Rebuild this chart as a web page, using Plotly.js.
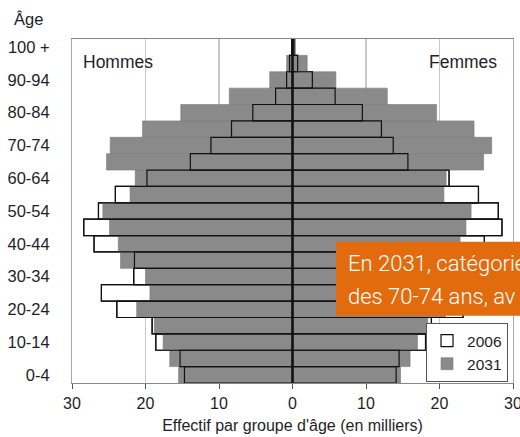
<!DOCTYPE html>
<html><head><meta charset="utf-8">
<script src="https://cdn.plot.ly/plotly-3.0.1.min.js"></script>
<style>html,body{margin:0;padding:0;background:#fff;}#chart{width:520px;height:437px;}</style>
</head><body><div id="chart"></div>
<script>
const ages = ['0-4','5-9','10-14','15-19','20-24','25-29','30-34','35-39','40-44','45-49','50-54','55-59','60-64','65-69','70-74','75-79','80-84','85-89','90-94','95-99','100 +'];
const shownAges = ['0-4','10-14','20-24','30-34','40-44','50-54','60-64','70-74','80-84','90-94','100 +'];
const hommes2006 = [14.7, 15.3, 18.6, 19.1, 23.9, 26.0, 21.6, 21.5, 27.0, 28.4, 26.4, 24.1, 19.8, 13.9, 11.1, 8.3, 5.4, 2.3, 0.8, 0.4, 0.1];
const hommes2031 = [15.5, 16.7, 17.6, 18.8, 21.2, 19.4, 20.0, 23.4, 23.7, 24.9, 25.8, 22.1, 21.4, 25.3, 24.8, 20.4, 15.2, 8.6, 3.1, 0.8, 0.1];
const femmes2006 = [14.1, 14.5, 18.1, 18.9, 23.2, 25.0, 22.0, 22.3, 26.1, 28.5, 28.0, 25.3, 21.3, 15.7, 13.7, 12.1, 9.5, 5.8, 2.7, 0.7, 0.2];
const femmes2031 = [14.7, 16.0, 17.0, 18.4, 20.8, 19.5, 20.3, 22.8, 22.8, 23.6, 24.3, 20.6, 20.9, 26.0, 27.1, 24.7, 19.6, 12.9, 5.9, 2.0, 0.4];
const xTickVals = [-30,-20,-10,0,10,20,30];
const xTickText = ['30','20','10','0','10','20','30'];

const neg = a => a.map(v => -v);
const GRAY = '#8a8a8a';
const FONT = 'Liberation Sans, Arial, sans-serif';
const TXT = '#1e1e28';

function bar(x, name, fill, lineColor, lineW, showlegend, group) {
  return {type:'bar', orientation:'h', y: ages, x: x, name: name, showlegend: showlegend, legendgroup: group,
    marker:{color: fill, line:{color: lineColor, width: lineW}}, hoverinfo:'skip'};
}

const traces = [
  bar(neg(hommes2006), '2006', '#ffffff', '#111', 1.2, true, 'a'),
  bar(femmes2006, '2006', '#ffffff', '#111', 1.2, false, 'a'),
  bar(neg(hommes2031), '2031', GRAY, '#7a7a7a', 0.6, true, 'b'),
  bar(femmes2031, '2031', GRAY, '#7a7a7a', 0.6, false, 'b'),
  bar(neg(hommes2006), '2006o', 'rgba(0,0,0,0)', '#111', 1.2, false, 'c'),
  bar(femmes2006, '2006o', 'rgba(0,0,0,0)', '#111', 1.2, false, 'c')
];

const layout = {
  width: 520, height: 437,
  margin: {l:72, r:7, t:39, b:54},
  paper_bgcolor:'#fff', plot_bgcolor:'#fff',
  barmode:'overlay', bargap: 0,
  font:{family: FONT, color: TXT},
  showlegend: true,
  legend:{x:0.9887, xanchor:'right', y:0.003, yanchor:'bottom', bgcolor:'#fff', bordercolor:'#555', borderwidth:1,
    font:{size:15.5, family: FONT, color: TXT}, traceorder:'normal', itemwidth:30},
  xaxis:{range:[-30,30], tickvals:xTickVals, ticktext:xTickText, showgrid:true, gridcolor:'#c8c8c8', gridwidth:1.5,
    zeroline:false, showline:true, linecolor:'#888', mirror:true, ticks:'outside', ticklen:5, tickcolor:'#555',
    ticklabelstandoff:1, ticklabeloverflow:'allow', tickfont:{size:16, family: FONT, color: TXT},
    title:{text:"Effectif par groupe d'âge (en milliers)", font:{size:16, family: FONT, color: TXT}, standoff:8}},
  yaxis:{type:'category', categoryorder:'array', categoryarray: ages, range:[-0.5, 20.5],
    tickvals: shownAges, ticktext: shownAges, showgrid:false, zeroline:false, showline:true, linecolor:'#aaa', mirror:true,
    ticks:'', ticklabelstandoff:18, tickfont:{size:16.5, family: FONT, color: TXT}},
  shapes:[
    {type:'line', xref:'x', yref:'paper', x0:0, x1:0, y0:0, y1:1, line:{color:'#111', width:2.5}, layer:'above'},
    {type:'rect', xref:'paper', yref:'paper', x0:0.5986, x1:1.2, y0:0.1956, y1:0.4108, fillcolor:'#e26b0e', line:{width:0}, layer:'above'}
  ],
  annotations:[
    {xref:'paper', yref:'paper', x:-0.137, y:1.057, xanchor:'left', yanchor:'middle', showarrow:false, text:'Âge', font:{size:16.5, family: FONT, color: TXT}},
    {xref:'paper', yref:'paper', x:0.02, y:0.932, xanchor:'left', yanchor:'middle', showarrow:false, text:'Hommes', font:{size:17.5, family: FONT, color: TXT}},
    {xref:'paper', yref:'paper', x:0.968, y:0.932, xanchor:'right', yanchor:'middle', showarrow:false, text:'Femmes', font:{size:17.5, family: FONT, color: TXT}},
    {xref:'paper', yref:'paper', x:0.621, y:0.346, xanchor:'left', yanchor:'middle', showarrow:false, text:'En 2031, catégorie', font:{size:22, weight:300, family:'Roboto, sans-serif', color:'#fff'}},
    {xref:'paper', yref:'paper', x:0.621, y:0.251, xanchor:'left', yanchor:'middle', showarrow:false, text:'des 70-74 ans, av', font:{size:22, weight:300, family:'Roboto, sans-serif', color:'#fff'}}
  ]
};

Plotly.newPlot('chart', traces, layout, {displayModeBar:false, staticPlot:true});
</script>
</body></html>
